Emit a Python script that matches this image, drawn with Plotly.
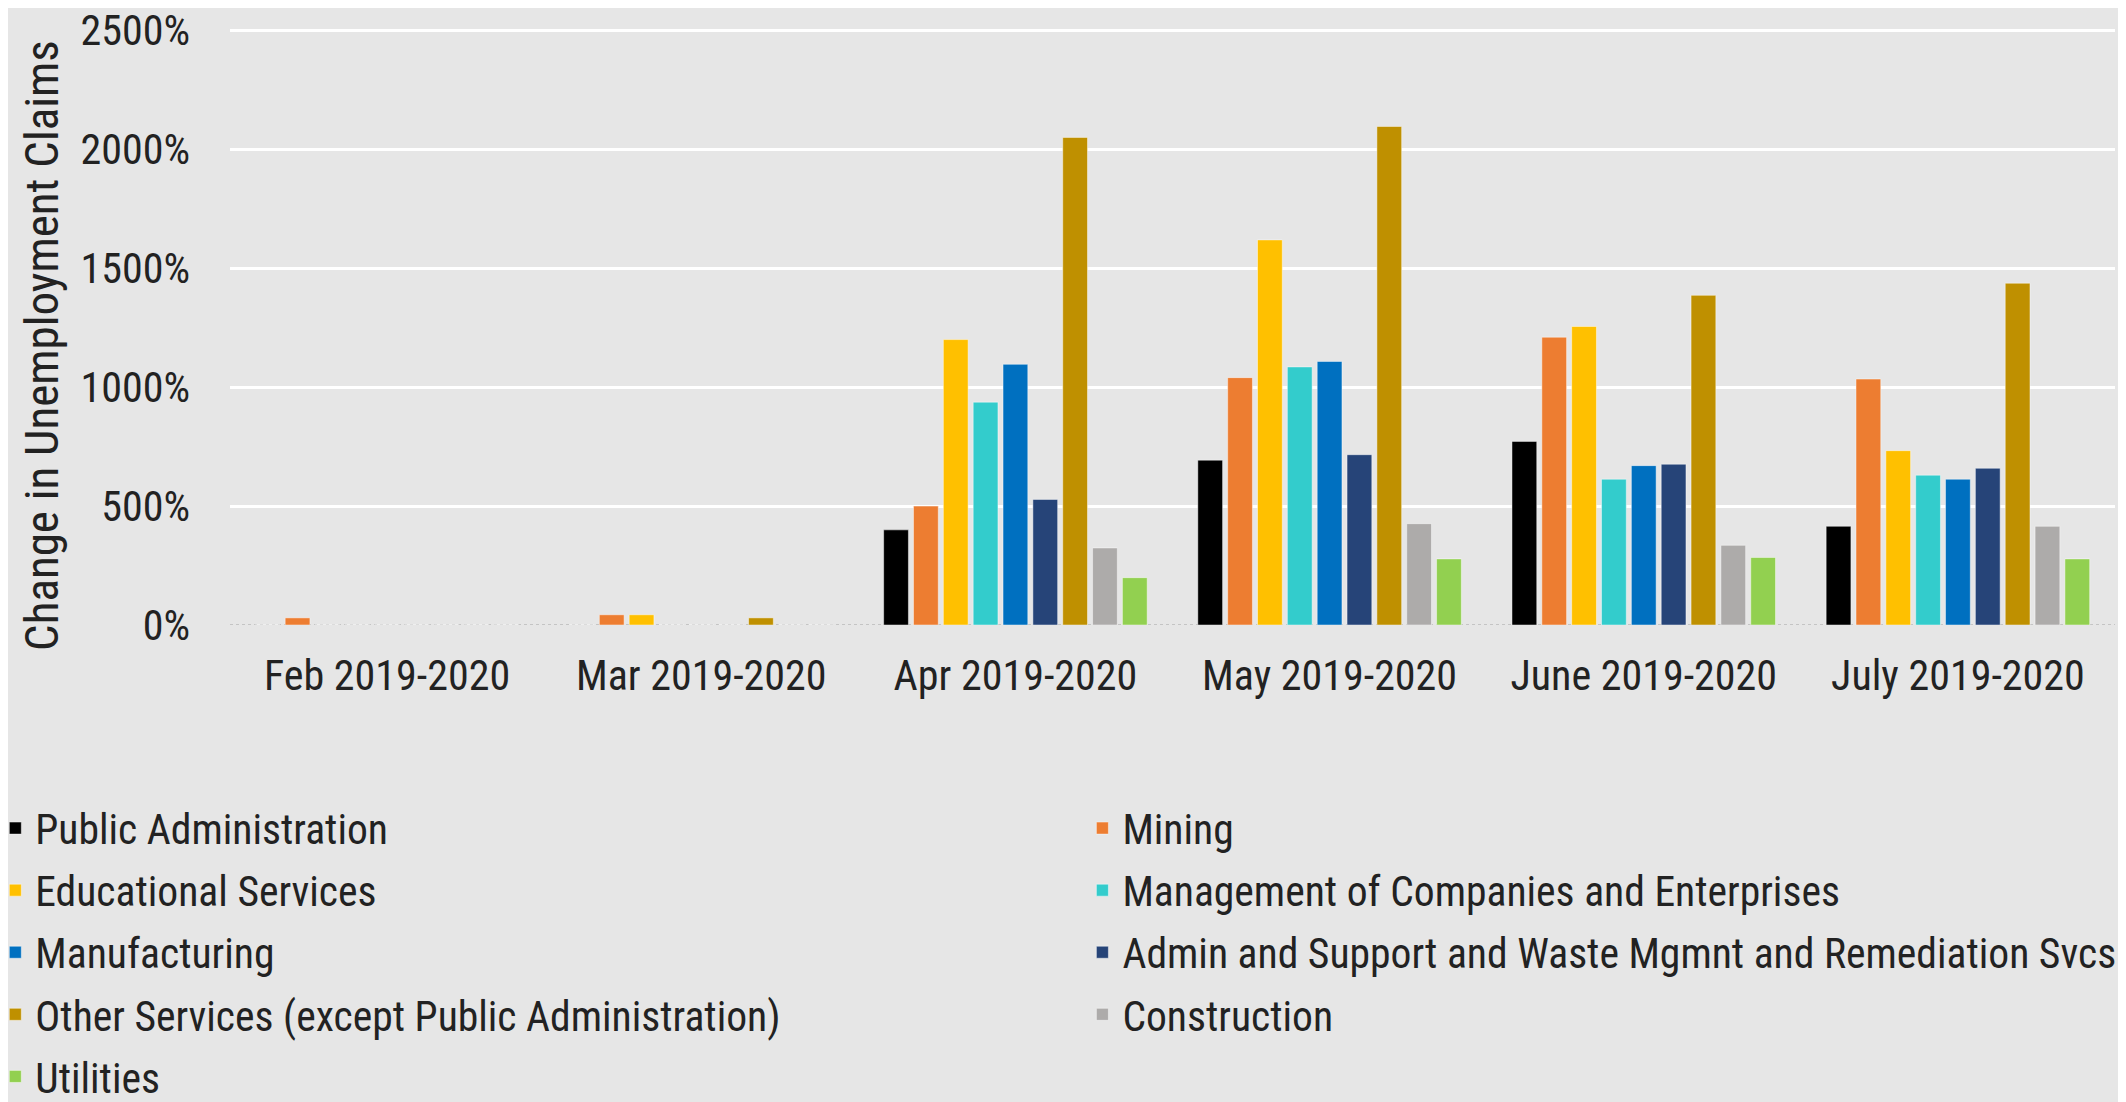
import plotly.graph_objects as go

months = ["Feb 2019-2020", "Mar 2019-2020", "Apr 2019-2020", "May 2019-2020", "June 2019-2020", "July 2019-2020"]

public_admin = [0, 0, 400, 693, 772, 415]
mining = [30, 43, 500, 1040, 1210, 1034]
educational = [0, 43, 1200, 1619, 1255, 733]
management = [0, 0, 937, 1085, 613, 630]
manufacturing = [0, 0, 1096, 1108, 670, 613]
admin_support = [0, 0, 528, 716, 676, 659]
other_services = [0, 30, 2050, 2096, 1386, 1437]
construction = [0, 0, 324, 426, 335, 415]
utilities = [0, 0, 199, 278, 284, 278]

y_tick_values = [0, 500, 1000, 1500, 2000, 2500]
y_tick_labels = ["0%", "500%", "1000%", "1500%", "2000%", "2500%"]

series = [
    ("Public Administration", public_admin, "#000000"),
    ("Mining", mining, "#ED7D31"),
    ("Educational Services", educational, "#FFC000"),
    ("Management of Companies and Enterprises", management, "#33CCCC"),
    ("Manufacturing", manufacturing, "#0070C0"),
    ("Admin and Support and Waste Mgmnt and Remediation Svcs", admin_support, "#264478"),
    ("Other Services (except Public Administration)", other_services, "#BF9000"),
    ("Construction", construction, "#ADABAA"),
    ("Utilities", utilities, "#92D050"),
]

y_title = "Change in Unemployment Claims"

FONT = "Roboto Condensed, Liberation Sans Narrow, Arial Narrow, Roboto, sans-serif"
TXT = "#222222"

fig = go.Figure()
for i, (name, vals, color) in enumerate(series):
    fig.add_trace(go.Bar(
        x=months, y=vals, name=name,
        legend="legend" if i % 2 == 0 else "legend2",
        legendgroup=name,
        marker=dict(color=color, line=dict(color="rgba(255,255,255,0.45)", width=1)),
    ))

fig.add_shape(type="line", xref="paper", yref="y", x0=0, x1=1, y0=0, y1=0,
              line=dict(color="#c4c4c4", width=2, dash="dot"), layer="below")

fig.add_annotation(text=y_title, textangle=-90, xref="paper", yref="paper",
                   x=-0.1003, y=0.469, xanchor="center", yanchor="middle",
                   showarrow=False, font=dict(size=47, color=TXT))

leg_common = dict(
    orientation="v", yanchor="top", xanchor="left",
    font=dict(size=41.6, color=TXT), traceorder="grouped",
    itemwidth=30, tracegroupgap=5, bgcolor="rgba(0,0,0,0)",
)

fig.update_layout(
    width=2126, height=1102,
    paper_bgcolor="#e6e6e6", plot_bgcolor="#e6e6e6",
    barmode="group", bargap=0.145, bargroupgap=0.17,
    margin=dict(l=222, r=19, t=20, b=485, autoexpand=False),
    font=dict(family=FONT, size=42, color=TXT),
    yaxis=dict(
        range=[0, 2510], tickmode="array", tickvals=y_tick_values, ticktext=y_tick_labels,
        gridcolor="#ffffff", gridwidth=3,
        zeroline=False, showline=False,
        ticks="", ticklabelstandoff=39, ticklabeloverflow="allow",
        tickfont=dict(size=42, color=TXT),
    ),
    xaxis=dict(
        showgrid=False, showline=False,
        tickfont=dict(size=42, color=TXT), ticks="", ticklabelstandoff=22,
    ),
    legend=dict(x=-0.1245, y=-0.284, **leg_common),
    legend2=dict(x=0.4522, y=-0.284, **leg_common),
    showlegend=True,
)

fig.write_html("out.html")
